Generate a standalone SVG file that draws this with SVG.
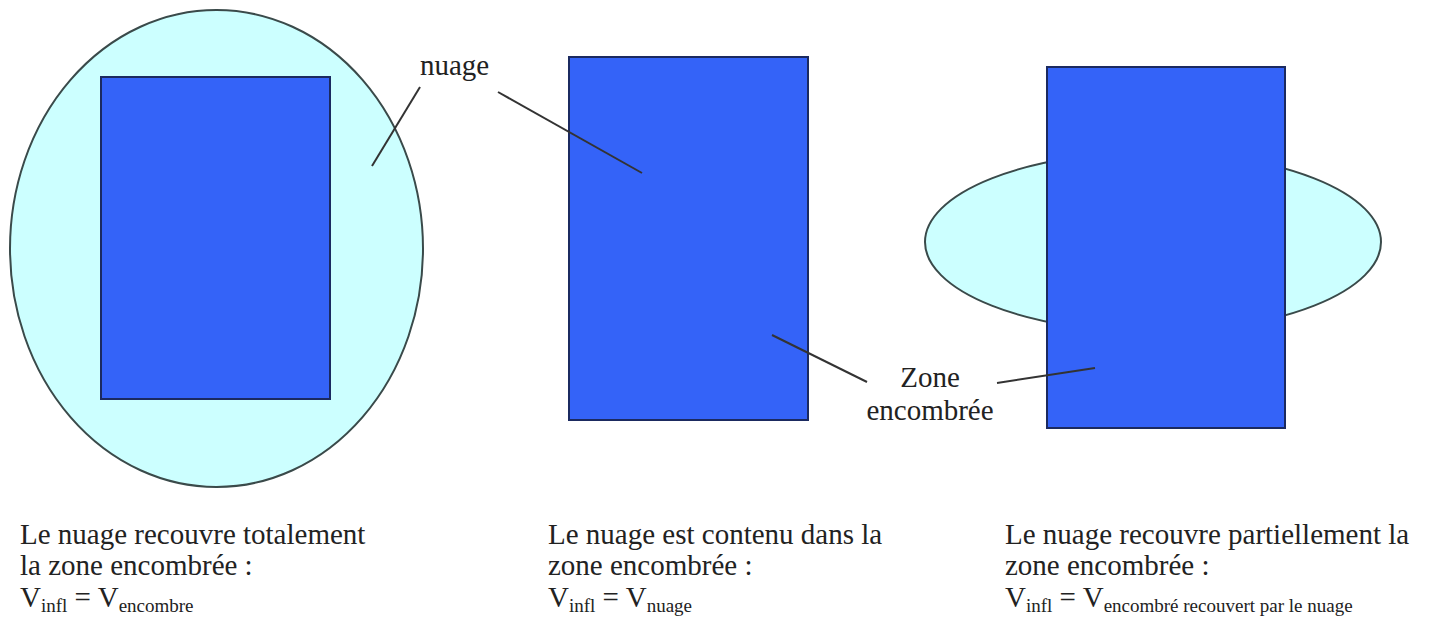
<svg xmlns="http://www.w3.org/2000/svg" width="1443" height="625" viewBox="0 0 1443 625">
<style>
.cloud{fill:#ccffff;stroke:#3a4a4a;stroke-width:2}
.zone{fill:#3463f8;stroke:#1b2a60;stroke-width:2}
.lead{stroke:#333;stroke-width:2;fill:none}
text{font-family:'Liberation Serif','DejaVu Serif','Times New Roman',serif;fill:#222;font-size:29px}
.sub{font-size:19px}
</style>
<rect width="1443" height="625" fill="#ffffff"/>
<g id="cas1">
<ellipse class="cloud" cx="216.5" cy="248.5" rx="206.5" ry="238.5"/>
<rect class="zone" x="101" y="77" width="229" height="322"/>
</g>
<g id="cas2">
<rect class="zone" x="569" y="57" width="239" height="363"/>
</g>
<g id="cas3">
<ellipse class="cloud" cx="1153" cy="242" rx="228" ry="90"/>
<rect class="zone" x="1047" y="67" width="238" height="361"/>
</g>
<g id="connecteurs">
<line class="lead" x1="420" y1="87" x2="372" y2="166"/>
<line class="lead" x1="498" y1="92" x2="642" y2="173"/>
<line class="lead" x1="772" y1="335" x2="867" y2="382"/>
<line class="lead" x1="997" y1="383" x2="1095" y2="368"/>
</g>
<g id="labels">
<text x="420" y="75" font-family="Liberation Serif, DejaVu Serif, serif">nuage</text>
<text x="930" y="387" text-anchor="middle" font-family="Liberation Serif, DejaVu Serif, serif">Zone</text>
<text x="930" y="420" text-anchor="middle" font-family="Liberation Serif, DejaVu Serif, serif">encombrée</text>
</g>
<g id="legende1" font-family="Liberation Serif, DejaVu Serif, serif">
<text x="20" y="544">Le nuage recouvre totalement</text>
<text x="20" y="575">la zone encombrée :</text>
<text x="20" y="607">V<tspan class="sub" dy="5">infl</tspan><tspan dy="-5"> = V</tspan><tspan class="sub" dy="5">encombre</tspan></text>
</g>
<g id="legende2" font-family="Liberation Serif, DejaVu Serif, serif">
<text x="548" y="544">Le nuage est contenu dans la</text>
<text x="548" y="575">zone encombrée :</text>
<text x="548" y="607">V<tspan class="sub" dy="5">infl</tspan><tspan dy="-5"> = V</tspan><tspan class="sub" dy="5">nuage</tspan></text>
</g>
<g id="legende3" font-family="Liberation Serif, DejaVu Serif, serif">
<text x="1005" y="544">Le nuage recouvre partiellement la</text>
<text x="1005" y="575">zone encombrée :</text>
<text x="1005" y="607">V<tspan class="sub" dy="5">infl</tspan><tspan dy="-5"> = V</tspan><tspan class="sub" dy="5">encombré recouvert par le nuage</tspan></text>
</g>
</svg>
